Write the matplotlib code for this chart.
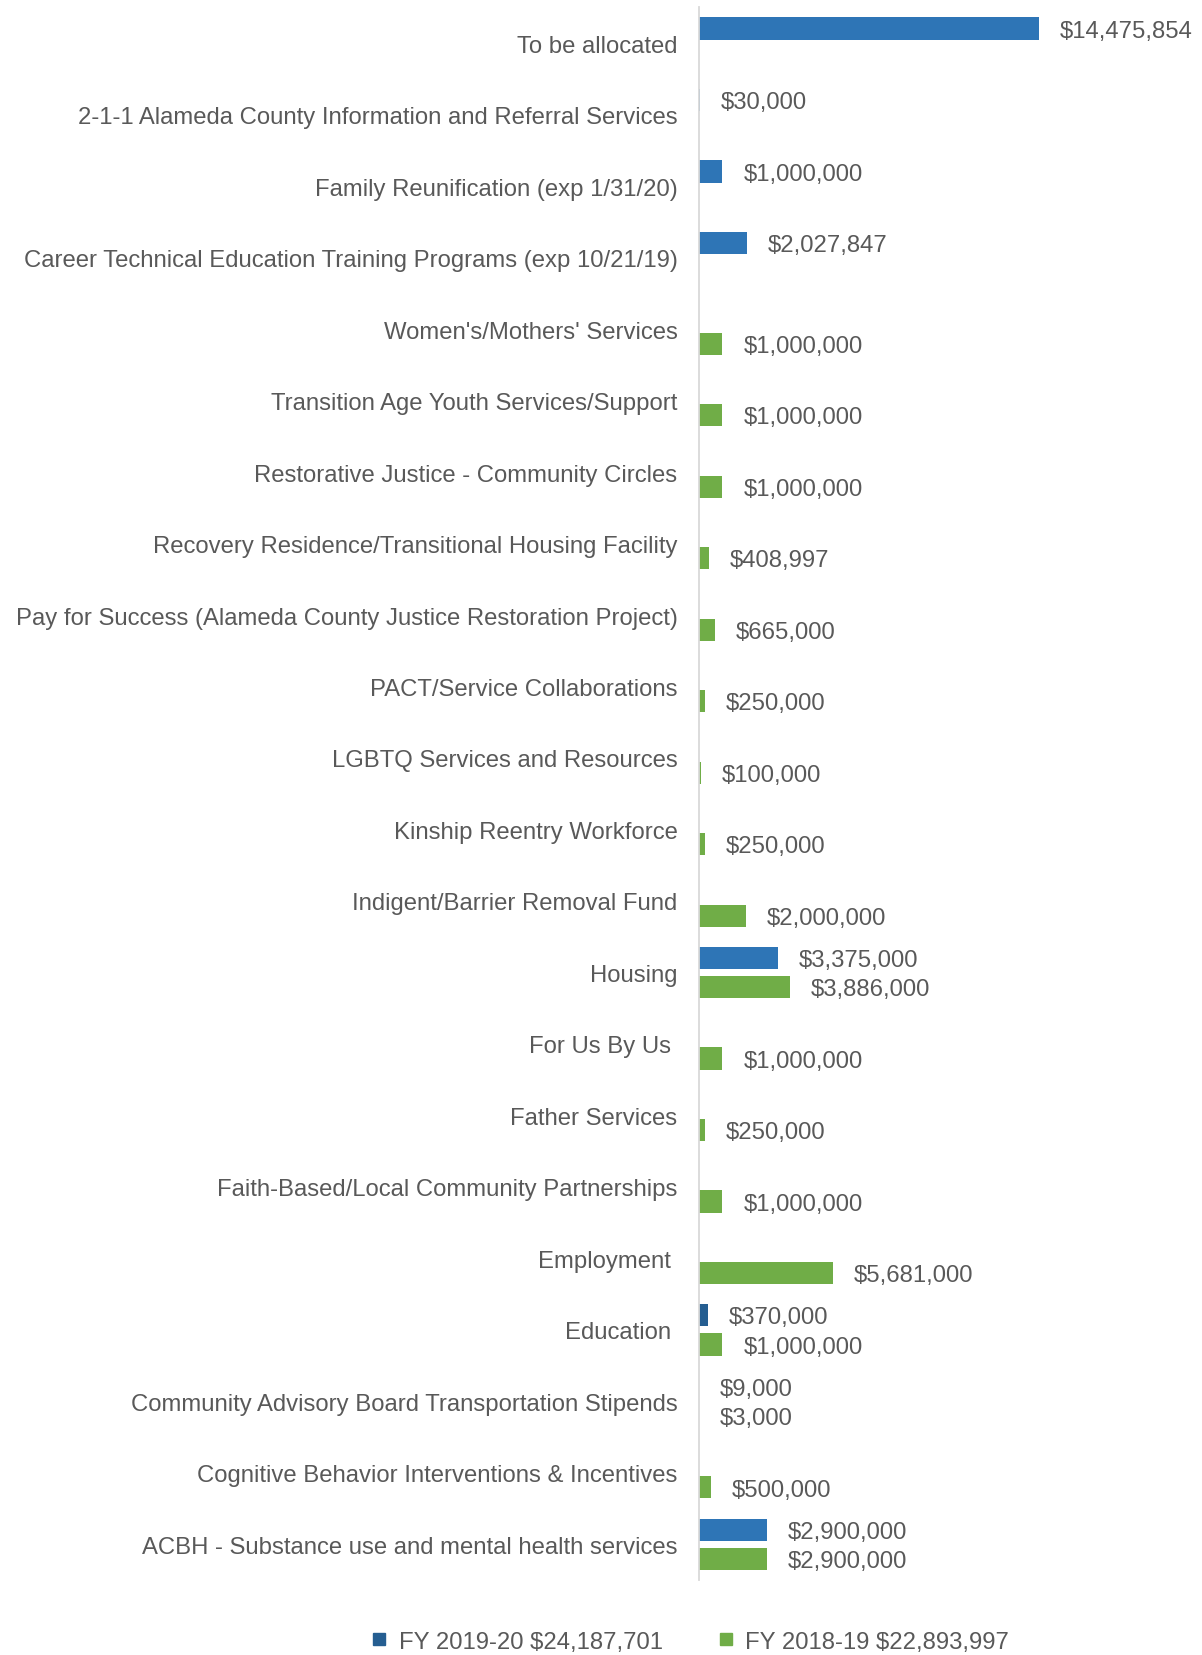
import matplotlib
matplotlib.use("Agg")
import matplotlib.pyplot as plt
from matplotlib.lines import Line2D
import numpy as np

plt.rcParams['font.family'] = ['Liberation Sans', 'DejaVu Sans']

# categories top to bottom
categories = [
    "To be allocated",
    "2-1-1 Alameda County Information and Referral Services",
    "Family Reunification (exp 1/31/20)",
    "Career Technical Education Training Programs (exp 10/21/19)",
    "Women's/Mothers' Services",
    "Transition Age Youth Services/Support",
    "Restorative Justice - Community Circles",
    "Recovery Residence/Transitional Housing Facility",
    "Pay for Success (Alameda County Justice Restoration Project)",
    "PACT/Service Collaborations",
    "LGBTQ Services and Resources",
    "Kinship Reentry Workforce",
    "Indigent/Barrier Removal Fund",
    "Housing",
    "For Us By Us ",
    "Father Services",
    "Faith-Based/Local Community Partnerships",
    "Employment ",
    "Education ",
    "Community Advisory Board Transportation Stipends",
    "Cognitive Behavior Interventions & Incentives",
    "ACBH - Substance use and mental health services",
]

# None = no bar / no label for that year
fy1920 = [14475854, 30000, 1000000, 2027847, None, None, None, None, None, None,
          None, None, None, 3375000, None, None, None, None, 370000, 9000, None, 2900000]
fy1819 = [None, None, None, None, 1000000, 1000000, 1000000, 408997, 665000, 250000,
          100000, 250000, 2000000, 3886000, 1000000, 250000, 1000000, 5681000, 1000000,
          3000, 500000, 2900000]

legend_labels = ["FY 2019-20 $24,187,701", "FY 2018-19 $22,893,997"]

BLUE = "#2E75B6"
BLUE_DARK = "#255E91"
GREEN = "#70AD47"
TEXT = "#595959"
FS = 17.2

fig = plt.figure(figsize=(12.02, 16.56), dpi=100)
ax = fig.add_axes([0.5815, 0.0453, 0.4185, 0.9496])

y = np.arange(len(categories))
off = 0.205
h = 0.31

for i, v in enumerate(fy1920):
    if v is None:
        continue
    col = BLUE_DARK if categories[i].strip() == "Education" else BLUE
    ax.barh(y[i] - off, v, height=h, color=col)
    ax.annotate(f"${v:,.0f}", (v, y[i] - off), xytext=(15, -1.5), textcoords="offset points",
                va="center", ha="left", fontsize=FS, color=TEXT)

for i, v in enumerate(fy1819):
    if v is None:
        continue
    ax.barh(y[i] + off, v, height=h, color=GREEN)
    ax.annotate(f"${v:,.0f}", (v, y[i] + off), xytext=(15, -1.5), textcoords="offset points",
                va="center", ha="left", fontsize=FS, color=TEXT)

ax.set_xlim(0, 21.4e6)
ax.set_ylim(len(categories) - 0.5, -0.5)
ax.set_yticks(y)
ax.set_yticklabels(categories, fontsize=FS, color=TEXT)
ax.tick_params(axis="y", length=0, pad=15.5)
ax.set_xticks([])
for s in ["top", "right", "bottom"]:
    ax.spines[s].set_visible(False)
ax.spines["left"].set_color("#D9D9D9")
ax.spines["left"].set_linewidth(1.3)

handles = [Line2D([], [], marker="s", linestyle="none", color=BLUE_DARK, markersize=8),
           Line2D([], [], marker="s", linestyle="none", color=GREEN, markersize=8)]
fig.legend(handles, legend_labels, loc="center", bbox_to_anchor=(0.574, 0.008),
           ncol=2, frameon=False, fontsize=FS, labelcolor=TEXT,
           handletextpad=0.45, columnspacing=2.3, handlelength=0.7)

fig.savefig("out.png", dpi=100)
